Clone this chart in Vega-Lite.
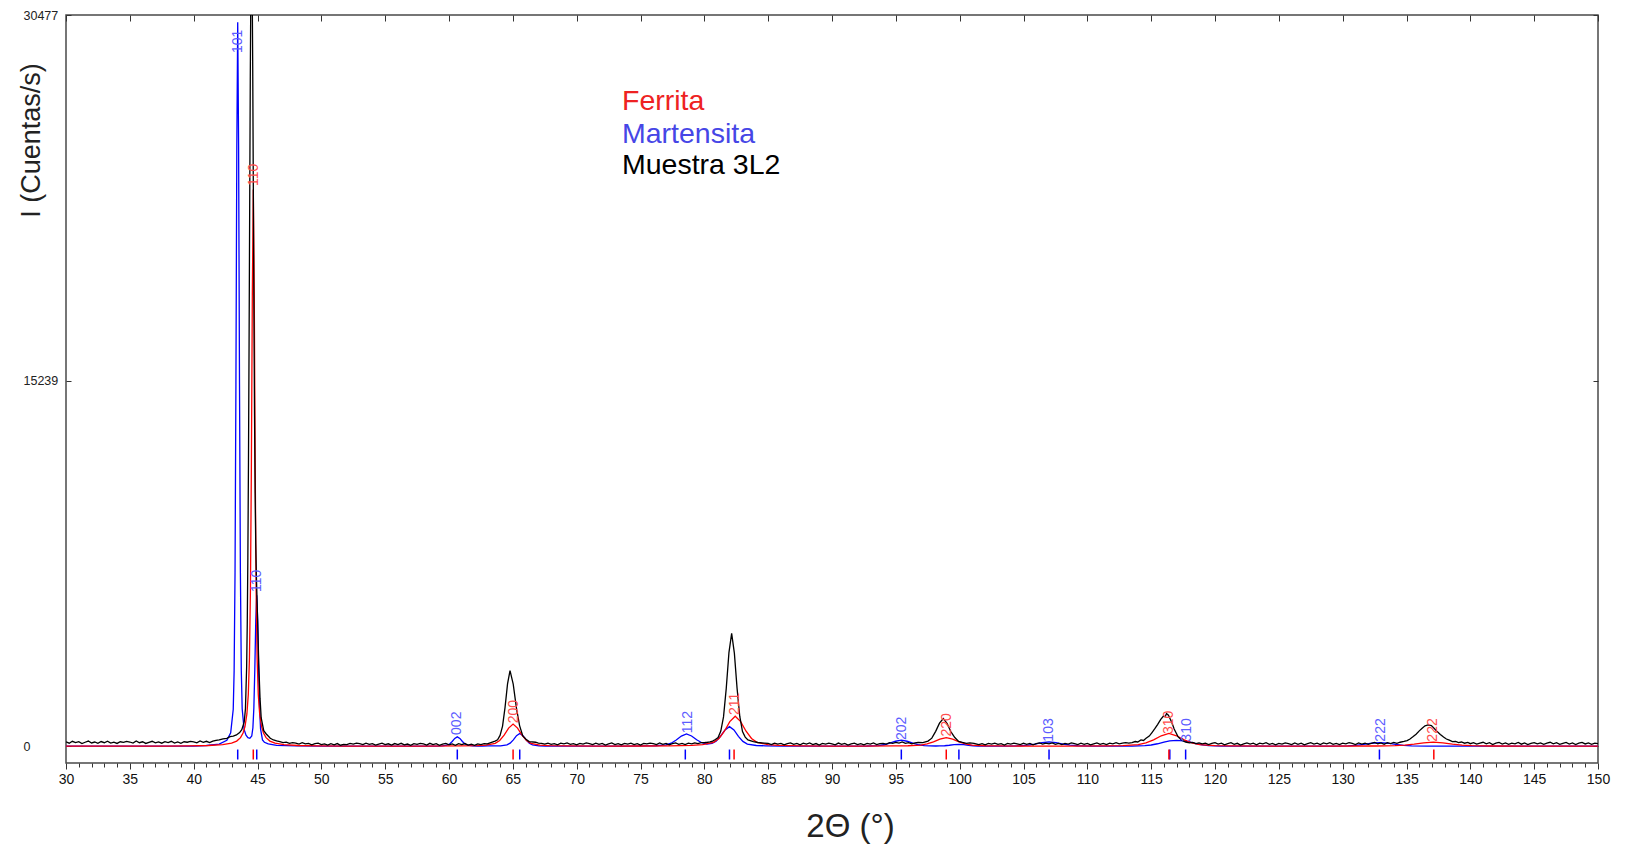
{
"$schema":"https://vega.github.io/schema/vega-lite/v6.json",
"width":1532,"height":748,
"autosize":{"type":"none"},
"padding":{"left":66,"top":15,"right":27,"bottom":88},
"background":"white",
"config":{"view":{"stroke":"#4a4a4a","strokeWidth":1.5},"font":"Liberation Sans"},
"resolve":{"axis":{"x":"independent","y":"independent"},"scale":{"color":"independent"}},
"datasets":{
"mar":[{"x":30,"y":0},{"x":40,"y":0},{"x":41,"y":30},{"x":42,"y":88},{"x":42.6,"y":246},{"x":42.9,"y":562},{"x":43.1,"y":1538},{"x":43.17,"y":3150},{"x":43.24,"y":7220},{"x":43.31,"y":15090},{"x":43.38,"y":25010},{"x":43.45,"y":30170},{"x":43.52,"y":25010},{"x":43.59,"y":15095},{"x":43.66,"y":7226},{"x":43.73,"y":3164},{"x":43.8,"y":1558},{"x":43.95,"y":703},{"x":44.1,"y":459},{"x":44.25,"y":353},{"x":44.4,"y":327},{"x":44.55,"y":424},{"x":44.64,"y":769},{"x":44.715,"y":1597},{"x":44.79,"y":3208},{"x":44.865,"y":5240},{"x":44.94,"y":6295},{"x":45.015,"y":5230},{"x":45.09,"y":3185},{"x":45.165,"y":1562},{"x":45.24,"y":720},{"x":45.39,"y":260},{"x":45.54,"y":166},{"x":45.84,"y":96},{"x":46.5,"y":36},{"x":48,"y":15},{"x":50,"y":6},{"x":52,"y":0},{"x":57,"y":0},{"x":58.25,"y":3},{"x":59.05,"y":7},{"x":59.45,"y":12},{"x":59.85,"y":41},{"x":60.05,"y":93},{"x":60.25,"y":195},{"x":60.45,"y":323},{"x":60.65,"y":390},{"x":60.85,"y":323},{"x":61.05,"y":195},{"x":61.25,"y":93},{"x":61.45,"y":41},{"x":61.85,"y":12},{"x":62.25,"y":8},{"x":62.6,"y":8},{"x":63.05,"y":10},{"x":63.54,"y":11},{"x":64.04,"y":17},{"x":64.54,"y":55},{"x":64.79,"y":127},{"x":65.04,"y":265},{"x":65.29,"y":439},{"x":65.54,"y":530},{"x":65.79,"y":439},{"x":66.04,"y":265},{"x":66.29,"y":127},{"x":66.54,"y":55},{"x":67.04,"y":17},{"x":67.54,"y":9},{"x":68.54,"y":4},{"x":70,"y":0},{"x":74,"y":0},{"x":75.4,"y":12},{"x":76.2,"y":20},{"x":77,"y":57},{"x":77.4,"y":126},{"x":77.8,"y":257},{"x":78.2,"y":423},{"x":78.6,"y":509},{"x":79,"y":426},{"x":79.4,"y":267},{"x":79.8,"y":144},{"x":80.2,"y":92},{"x":80.6,"y":114},{"x":80.92,"y":209},{"x":81.27,"y":416},{"x":81.62,"y":678},{"x":81.97,"y":815},{"x":82.32,"y":676},{"x":82.67,"y":411},{"x":83.02,"y":199},{"x":83.37,"y":90},{"x":84.07,"y":30},{"x":84.77,"y":17},{"x":86.17,"y":6},{"x":88,"y":0},{"x":90,"y":0},{"x":91.83,"y":4},{"x":92.73,"y":8},{"x":93.63,"y":26},{"x":94.08,"y":60},{"x":94.53,"y":125},{"x":94.98,"y":207},{"x":95.43,"y":250},{"x":95.88,"y":207},{"x":96.33,"y":125},{"x":96.78,"y":60},{"x":97.23,"y":26},{"x":98.13,"y":8},{"x":98.44,"y":12},{"x":98.82,"y":19},{"x":99.19,"y":40},{"x":99.565,"y":66},{"x":99.94,"y":80},{"x":100.315,"y":66},{"x":100.69,"y":40},{"x":101.065,"y":19},{"x":101.44,"y":8},{"x":102.2,"y":2},{"x":103.7,"y":6},{"x":104.8,"y":19},{"x":105.35,"y":43},{"x":105.9,"y":90},{"x":106.45,"y":149},{"x":107,"y":180},{"x":107.55,"y":149},{"x":108.1,"y":90},{"x":108.65,"y":43},{"x":109.2,"y":19},{"x":110.3,"y":6},{"x":111.5,"y":0},{"x":112.5,"y":3},{"x":113.5,"y":7},{"x":114.5,"y":23},{"x":115,"y":50},{"x":115.5,"y":102},{"x":116,"y":172},{"x":116.45,"y":223},{"x":117,"y":241},{"x":117.5,"y":226},{"x":118,"y":180},{"x":118.5,"y":112},{"x":119,"y":58},{"x":119.5,"y":25},{"x":120.5,"y":7},{"x":122,"y":0},{"x":128,"y":0},{"x":129.15,"y":5},{"x":130.4,"y":16},{"x":131.025,"y":36},{"x":131.65,"y":75},{"x":132.275,"y":124},{"x":132.9,"y":150},{"x":133.525,"y":124},{"x":134.15,"y":75},{"x":134.775,"y":36},{"x":135.4,"y":16},{"x":136.65,"y":5},{"x":138,"y":0},{"x":150,"y":0}],
"fer":[{"x":30,"y":0},{"x":38,"y":5},{"x":39.67,"y":15},{"x":41.17,"y":30},{"x":42.27,"y":63},{"x":42.97,"y":125},{"x":43.37,"y":214},{"x":43.67,"y":357},{"x":43.87,"y":552},{"x":44.02,"y":812},{"x":44.17,"y":1345},{"x":44.28,"y":2160},{"x":44.37,"y":3690},{"x":44.445,"y":6450},{"x":44.52,"y":11600},{"x":44.595,"y":18840},{"x":44.67,"y":23200},{"x":44.745,"y":18840},{"x":44.82,"y":11600},{"x":44.895,"y":6450},{"x":44.97,"y":3690},{"x":45.06,"y":2160},{"x":45.17,"y":1345},{"x":45.32,"y":812},{"x":45.47,"y":552},{"x":45.67,"y":357},{"x":45.97,"y":214},{"x":46.37,"y":125},{"x":47.07,"y":63},{"x":48.17,"y":30},{"x":49.67,"y":15},{"x":52,"y":6},{"x":55,"y":2},{"x":58,"y":4},{"x":60.82,"y":12},{"x":62.22,"y":27},{"x":62.92,"y":47},{"x":63.62,"y":121},{"x":63.97,"y":238},{"x":64.32,"y":460},{"x":64.67,"y":754},{"x":65.02,"y":920},{"x":65.37,"y":754},{"x":65.72,"y":460},{"x":66.07,"y":238},{"x":66.42,"y":121},{"x":67.12,"y":47},{"x":67.82,"y":27},{"x":69.22,"y":12},{"x":72,"y":4},{"x":75,"y":8},{"x":77.32,"y":17},{"x":79.02,"y":36},{"x":79.87,"y":64},{"x":80.72,"y":164},{"x":81.145,"y":324},{"x":81.57,"y":625},{"x":81.995,"y":1025},{"x":82.42,"y":1250},{"x":82.845,"y":1025},{"x":83.27,"y":625},{"x":83.695,"y":324},{"x":84.12,"y":164},{"x":84.97,"y":64},{"x":85.82,"y":36},{"x":87.52,"y":17},{"x":90,"y":6},{"x":92,"y":5},{"x":94.95,"y":10},{"x":95.95,"y":18},{"x":96.95,"y":47},{"x":97.45,"y":93},{"x":97.95,"y":180},{"x":98.45,"y":295},{"x":98.95,"y":360},{"x":99.45,"y":295},{"x":99.95,"y":180},{"x":100.45,"y":93},{"x":100.95,"y":47},{"x":101.95,"y":18},{"x":102.95,"y":10},{"x":106,"y":5},{"x":108,"y":4},{"x":111.59,"y":15},{"x":112.79,"y":27},{"x":113.99,"y":69},{"x":114.59,"y":137},{"x":115.19,"y":265},{"x":115.79,"y":435},{"x":116.39,"y":530},{"x":116.99,"y":435},{"x":117.59,"y":265},{"x":118.19,"y":137},{"x":118.79,"y":69},{"x":119.99,"y":27},{"x":121.19,"y":15},{"x":125,"y":5},{"x":128,"y":3},{"x":132.6,"y":9},{"x":134.1,"y":22},{"x":134.85,"y":44},{"x":135.6,"y":85},{"x":136.35,"y":139},{"x":137.1,"y":170},{"x":137.85,"y":139},{"x":138.6,"y":85},{"x":139.35,"y":44},{"x":140.1,"y":22},{"x":141.6,"y":9},{"x":145,"y":3},{"x":150,"y":2}],
"obs":[{"x":30,"y":180},{"x":30.25,"y":125},{"x":30.5,"y":205},{"x":30.75,"y":150},{"x":31,"y":190},{"x":31.25,"y":110},{"x":31.5,"y":165},{"x":31.75,"y":215},{"x":32,"y":135},{"x":32.25,"y":175},{"x":32.5,"y":120},{"x":32.75,"y":195},{"x":33,"y":145},{"x":33.25,"y":210},{"x":33.5,"y":130},{"x":33.75,"y":170},{"x":34,"y":115},{"x":34.25,"y":185},{"x":34.5,"y":160},{"x":34.75,"y":200},{"x":35,"y":175},{"x":35.25,"y":130},{"x":35.5,"y":215},{"x":35.75,"y":145},{"x":36,"y":185},{"x":36.25,"y":115},{"x":36.5,"y":160},{"x":36.75,"y":205},{"x":37,"y":140},{"x":37.25,"y":180},{"x":37.5,"y":125},{"x":37.75,"y":190},{"x":38,"y":150},{"x":38.25,"y":205},{"x":38.5,"y":130},{"x":38.75,"y":175},{"x":39,"y":120},{"x":39.25,"y":185},{"x":39.5,"y":165},{"x":39.75,"y":200},{"x":40,"y":185},{"x":40.25,"y":140},{"x":40.5,"y":220},{"x":40.75,"y":160},{"x":41,"y":205},{"x":41.25,"y":150},{"x":41.5,"y":210},{"x":41.75,"y":240},{"x":42,"y":260},{"x":42.3,"y":305},{"x":42.6,"y":330},{"x":42.85,"y":400},{"x":43.1,"y":420},{"x":43.35,"y":470},{"x":43.6,"y":565},{"x":43.77,"y":690},{"x":43.96,"y":1015},{"x":44.055,"y":1555},{"x":44.15,"y":3315},{"x":44.1975,"y":5085},{"x":44.245,"y":7880},{"x":44.2925,"y":11810},{"x":44.34,"y":16800},{"x":44.3875,"y":22400},{"x":44.435,"y":27900},{"x":44.4825,"y":31900},{"x":44.53,"y":33400},{"x":44.5775,"y":32190},{"x":44.625,"y":28350},{"x":44.6725,"y":23320},{"x":44.72,"y":18200},{"x":44.7675,"y":13770},{"x":44.815,"y":10555},{"x":44.8625,"y":8425},{"x":44.91,"y":7145},{"x":45.005,"y":5315},{"x":45.1,"y":3413},{"x":45.2,"y":1982},{"x":45.29,"y":1178},{"x":45.49,"y":650},{"x":45.67,"y":520},{"x":46,"y":330},{"x":46.25,"y":260},{"x":46.5,"y":220},{"x":46.75,"y":190},{"x":47,"y":150},{"x":47.25,"y":170},{"x":47.5,"y":120},{"x":47.75,"y":145},{"x":48,"y":130},{"x":48.25,"y":85},{"x":48.5,"y":145},{"x":48.75,"y":95},{"x":49,"y":120},{"x":49.25,"y":60},{"x":49.5,"y":105},{"x":49.75,"y":130},{"x":50,"y":70},{"x":50.25,"y":95},{"x":50.5,"y":45},{"x":50.75,"y":105},{"x":51,"y":60},{"x":51.25,"y":110},{"x":51.5,"y":40},{"x":51.75,"y":75},{"x":52,"y":65},{"x":52.25,"y":120},{"x":52.5,"y":90},{"x":52.75,"y":125},{"x":53,"y":105},{"x":53.25,"y":65},{"x":53.5,"y":130},{"x":53.75,"y":80},{"x":54,"y":110},{"x":54.25,"y":50},{"x":54.5,"y":90},{"x":54.75,"y":130},{"x":55,"y":65},{"x":55.25,"y":100},{"x":55.5,"y":45},{"x":55.75,"y":110},{"x":56,"y":70},{"x":56.25,"y":120},{"x":56.5,"y":55},{"x":56.75,"y":90},{"x":57,"y":40},{"x":57.25,"y":105},{"x":57.5,"y":80},{"x":57.75,"y":120},{"x":58,"y":95},{"x":58.25,"y":50},{"x":58.5,"y":120},{"x":58.75,"y":65},{"x":59,"y":105},{"x":59.25,"y":35},{"x":59.5,"y":85},{"x":59.75,"y":120},{"x":60,"y":55},{"x":60.25,"y":95},{"x":60.5,"y":40},{"x":60.75,"y":105},{"x":61,"y":65},{"x":61.25,"y":110},{"x":61.5,"y":45},{"x":61.75,"y":85},{"x":62,"y":40},{"x":62.25,"y":95},{"x":62.5,"y":70},{"x":62.75,"y":110},{"x":63,"y":95},{"x":63.22,"y":140},{"x":63.61,"y":215},{"x":63.805,"y":265},{"x":64,"y":450},{"x":64.195,"y":840},{"x":64.39,"y":1620},{"x":64.585,"y":2600},{"x":64.78,"y":3150},{"x":65.03,"y":2590},{"x":65.28,"y":1600},{"x":65.53,"y":860},{"x":65.78,"y":430},{"x":66.03,"y":290},{"x":66.28,"y":195},{"x":66.78,"y":165},{"x":67,"y":130},{"x":67.25,"y":120},{"x":67.5,"y":85},{"x":67.75,"y":130},{"x":68,"y":75},{"x":68.25,"y":110},{"x":68.5,"y":60},{"x":68.75,"y":125},{"x":69,"y":95},{"x":69.25,"y":135},{"x":69.5,"y":80},{"x":69.75,"y":110},{"x":70,"y":55},{"x":70.25,"y":120},{"x":70.5,"y":90},{"x":70.75,"y":135},{"x":71,"y":110},{"x":71.25,"y":70},{"x":71.5,"y":130},{"x":71.75,"y":80},{"x":72,"y":120},{"x":72.25,"y":50},{"x":72.5,"y":100},{"x":72.75,"y":135},{"x":73,"y":70},{"x":73.25,"y":110},{"x":73.5,"y":55},{"x":73.75,"y":120},{"x":74,"y":85},{"x":74.25,"y":130},{"x":74.5,"y":65},{"x":74.75,"y":105},{"x":75,"y":50},{"x":75.25,"y":115},{"x":75.5,"y":95},{"x":75.75,"y":130},{"x":76,"y":110},{"x":76.25,"y":65},{"x":76.5,"y":135},{"x":76.75,"y":80},{"x":77,"y":120},{"x":77.25,"y":55},{"x":77.5,"y":105},{"x":77.75,"y":140},{"x":78,"y":80},{"x":78.25,"y":115},{"x":78.5,"y":65},{"x":78.75,"y":125},{"x":79,"y":95},{"x":79.25,"y":140},{"x":79.5,"y":110},{"x":79.75,"y":150},{"x":80,"y":150},{"x":80.25,"y":165},{"x":80.44,"y":180},{"x":80.65,"y":215},{"x":80.865,"y":280},{"x":81.0775,"y":360},{"x":81.29,"y":630},{"x":81.5025,"y":1220},{"x":81.715,"y":2400},{"x":81.9275,"y":3900},{"x":82.14,"y":4700},{"x":82.3525,"y":3880},{"x":82.565,"y":2410},{"x":82.7775,"y":1240},{"x":82.99,"y":610},{"x":83.2025,"y":380},{"x":83.415,"y":260},{"x":83.84,"y":195},{"x":84.2,"y":155},{"x":84.69,"y":130},{"x":85,"y":115},{"x":85.25,"y":70},{"x":85.5,"y":130},{"x":85.75,"y":90},{"x":86,"y":120},{"x":86.25,"y":55},{"x":86.5,"y":105},{"x":86.75,"y":140},{"x":87,"y":75},{"x":87.25,"y":115},{"x":87.5,"y":60},{"x":87.75,"y":125},{"x":88,"y":90},{"x":88.25,"y":135},{"x":88.5,"y":70},{"x":88.75,"y":110},{"x":89,"y":50},{"x":89.25,"y":115},{"x":89.5,"y":85},{"x":89.75,"y":125},{"x":90,"y":100},{"x":90.25,"y":60},{"x":90.5,"y":130},{"x":90.75,"y":75},{"x":91,"y":115},{"x":91.25,"y":45},{"x":91.5,"y":95},{"x":91.75,"y":130},{"x":92,"y":70},{"x":92.25,"y":110},{"x":92.5,"y":55},{"x":92.75,"y":120},{"x":93,"y":85},{"x":93.25,"y":135},{"x":93.5,"y":70},{"x":93.75,"y":105},{"x":94,"y":120},{"x":94.25,"y":90},{"x":94.5,"y":150},{"x":94.75,"y":115},{"x":95,"y":160},{"x":95.25,"y":130},{"x":95.5,"y":175},{"x":95.75,"y":120},{"x":96,"y":150},{"x":96.25,"y":100},{"x":96.5,"y":135},{"x":96.75,"y":155},{"x":97.12,"y":150},{"x":97.52,"y":215},{"x":97.82,"y":335},{"x":98.12,"y":620},{"x":98.42,"y":960},{"x":98.72,"y":1150},{"x":99.02,"y":945},{"x":99.32,"y":600},{"x":99.62,"y":360},{"x":99.92,"y":200},{"x":100.22,"y":155},{"x":100.52,"y":115},{"x":100.8,"y":140},{"x":101.12,"y":120},{"x":101.5,"y":70},{"x":101.75,"y":110},{"x":102,"y":60},{"x":102.25,"y":120},{"x":102.5,"y":90},{"x":102.75,"y":130},{"x":103,"y":75},{"x":103.25,"y":105},{"x":103.5,"y":50},{"x":103.75,"y":115},{"x":104,"y":85},{"x":104.25,"y":125},{"x":104.5,"y":100},{"x":104.75,"y":65},{"x":105,"y":125},{"x":105.25,"y":80},{"x":105.5,"y":115},{"x":105.75,"y":55},{"x":106,"y":105},{"x":106.25,"y":135},{"x":106.5,"y":90},{"x":106.75,"y":130},{"x":107,"y":95},{"x":107.25,"y":140},{"x":107.5,"y":80},{"x":107.75,"y":115},{"x":108,"y":65},{"x":108.25,"y":120},{"x":108.5,"y":90},{"x":108.75,"y":135},{"x":109,"y":110},{"x":109.25,"y":70},{"x":109.5,"y":125},{"x":109.75,"y":80},{"x":110,"y":120},{"x":110.25,"y":55},{"x":110.5,"y":100},{"x":110.75,"y":140},{"x":111,"y":80},{"x":111.25,"y":115},{"x":111.5,"y":70},{"x":111.75,"y":130},{"x":112,"y":100},{"x":112.25,"y":150},{"x":112.5,"y":95},{"x":112.75,"y":125},{"x":113,"y":150},{"x":113.25,"y":125},{"x":113.5,"y":150},{"x":113.75,"y":195},{"x":113.95,"y":175},{"x":114.2,"y":260},{"x":114.4,"y":240},{"x":114.6,"y":330},{"x":114.85,"y":420},{"x":115.05,"y":560},{"x":115.3,"y":740},{"x":115.5,"y":900},{"x":115.75,"y":1120},{"x":115.95,"y":1250},{"x":116.1,"y":1230},{"x":116.2,"y":1360},{"x":116.35,"y":1290},{"x":116.5,"y":1120},{"x":116.65,"y":950},{"x":116.8,"y":720},{"x":116.95,"y":560},{"x":117.1,"y":400},{"x":117.25,"y":320},{"x":117.4,"y":250},{"x":117.7,"y":175},{"x":118,"y":140},{"x":118.25,"y":160},{"x":118.5,"y":110},{"x":118.75,"y":140},{"x":119,"y":95},{"x":119.25,"y":130},{"x":119.5,"y":70},{"x":119.75,"y":115},{"x":120,"y":150},{"x":120.25,"y":85},{"x":120.5,"y":125},{"x":120.75,"y":60},{"x":121,"y":110},{"x":121.25,"y":145},{"x":121.5,"y":75},{"x":121.75,"y":120},{"x":122,"y":50},{"x":122.25,"y":100},{"x":122.5,"y":140},{"x":122.75,"y":85},{"x":123,"y":125},{"x":123.25,"y":60},{"x":123.5,"y":130},{"x":123.75,"y":95},{"x":124,"y":145},{"x":124.25,"y":75},{"x":124.5,"y":115},{"x":124.75,"y":55},{"x":125,"y":120},{"x":125.25,"y":90},{"x":125.5,"y":140},{"x":125.75,"y":110},{"x":126,"y":65},{"x":126.25,"y":135},{"x":126.5,"y":80},{"x":126.75,"y":125},{"x":127,"y":60},{"x":127.25,"y":105},{"x":127.5,"y":150},{"x":127.75,"y":90},{"x":128,"y":130},{"x":128.25,"y":70},{"x":128.5,"y":135},{"x":128.75,"y":100},{"x":129,"y":150},{"x":129.25,"y":80},{"x":129.5,"y":120},{"x":129.75,"y":65},{"x":130,"y":125},{"x":130.25,"y":100},{"x":130.5,"y":145},{"x":130.75,"y":115},{"x":131,"y":70},{"x":131.25,"y":140},{"x":131.5,"y":90},{"x":131.75,"y":130},{"x":132,"y":75},{"x":132.25,"y":115},{"x":132.5,"y":155},{"x":132.75,"y":100},{"x":133,"y":140},{"x":133.25,"y":80},{"x":133.5,"y":145},{"x":133.75,"y":110},{"x":134,"y":155},{"x":134.25,"y":120},{"x":134.5,"y":165},{"x":134.8,"y":200},{"x":135.05,"y":235},{"x":135.275,"y":300},{"x":135.5,"y":390},{"x":135.75,"y":500},{"x":136,"y":640},{"x":136.225,"y":750},{"x":136.45,"y":850},{"x":136.7,"y":890},{"x":136.95,"y":860},{"x":137.175,"y":740},{"x":137.4,"y":610},{"x":137.65,"y":490},{"x":137.9,"y":380},{"x":138.125,"y":300},{"x":138.35,"y":250},{"x":138.6,"y":195},{"x":138.85,"y":200},{"x":139.075,"y":150},{"x":139.3,"y":175},{"x":139.55,"y":125},{"x":139.8,"y":160},{"x":140,"y":105},{"x":140.25,"y":150},{"x":140.5,"y":85},{"x":140.75,"y":130},{"x":141,"y":165},{"x":141.25,"y":100},{"x":141.5,"y":145},{"x":141.75,"y":70},{"x":142,"y":125},{"x":142.25,"y":155},{"x":142.5,"y":90},{"x":142.75,"y":140},{"x":143,"y":75},{"x":143.25,"y":130},{"x":143.5,"y":100},{"x":143.75,"y":160},{"x":144,"y":85},{"x":144.25,"y":135},{"x":144.5,"y":65},{"x":144.75,"y":120},{"x":145,"y":150},{"x":145.25,"y":95},{"x":145.5,"y":140},{"x":145.75,"y":80},{"x":146,"y":130},{"x":146.25,"y":165},{"x":146.5,"y":100},{"x":146.75,"y":145},{"x":147,"y":75},{"x":147.25,"y":120},{"x":147.5,"y":155},{"x":147.75,"y":90},{"x":148,"y":135},{"x":148.25,"y":70},{"x":148.5,"y":125},{"x":148.75,"y":160},{"x":149,"y":95},{"x":149.25,"y":140},{"x":149.5,"y":80},{"x":149.75,"y":125},{"x":150,"y":105}],
"sticks":[{"phase":"Martensita","x":43.45},{"phase":"Ferrita","x":44.67},{"phase":"Martensita","x":44.94},{"phase":"Martensita","x":60.65},{"phase":"Ferrita","x":65.02},{"phase":"Martensita","x":65.54},{"phase":"Martensita","x":78.51},{"phase":"Martensita","x":81.97},{"phase":"Ferrita","x":82.33},{"phase":"Martensita","x":95.43},{"phase":"Ferrita","x":98.95},{"phase":"Martensita","x":99.94},{"phase":"Martensita","x":107.0},{"phase":"Martensita","x":116.46},{"phase":"Ferrita","x":116.39},{"phase":"Martensita","x":117.7},{"phase":"Martensita","x":132.88},{"phase":"Ferrita","x":137.14}],
"hkl":[{"phase":"Martensita","x":43.45,"y":28890,"hkl":"101"},{"phase":"Ferrita","x":44.7,"y":23350,"hkl":"110"},{"phase":"Martensita","x":44.98,"y":6430,"hkl":"110"},{"phase":"Martensita","x":60.6,"y":470,"hkl":"002"},{"phase":"Ferrita","x":65.09,"y":955,"hkl":"200"},{"phase":"Martensita","x":78.74,"y":540,"hkl":"112"},{"phase":"Ferrita","x":82.4,"y":1300,"hkl":"211"},{"phase":"Martensita","x":95.45,"y":260,"hkl":"202"},{"phase":"Ferrita","x":98.98,"y":400,"hkl":"220"},{"phase":"Martensita","x":107.02,"y":190,"hkl":"103"},{"phase":"Ferrita","x":116.42,"y":510,"hkl":"310"},{"phase":"Martensita","x":117.78,"y":190,"hkl":"310"},{"phase":"Martensita","x":132.97,"y":190,"hkl":"222"},{"phase":"Ferrita","x":137.1,"y":190,"hkl":"222"}],
"legend":[{"t":"Ferrita","x":73.55,"y":26520},{"t":"Martensita","x":73.55,"y":25150},{"t":"Muestra 3L2","x":73.55,"y":23830}]
},
"layer":[
{"mark":{"type":"rule","color":"#a8a8a8","strokeWidth":1},
 "encoding":{"y":{"datum":-25,"type":"quantitative","scale":{"domain":[-700,30477],"nice":false,"zero":false},"axis":null}}},
{"data":{"name":"sticks"},"mark":{"type":"rule","strokeWidth":1.5},
 "encoding":{"x":{"field":"x","type":"quantitative","scale":{"domain":[30,150],"nice":false,"zero":false},"axis":null},
  "y":{"datum":-138,"type":"quantitative","axis":null},"y2":{"datum":-554},
  "color":{"field":"phase","type":"nominal","scale":{"domain":["Ferrita","Martensita"],"range":["#ff0000","#0000ff"]},"legend":null}}},
{"data":{"name":"mar"},"mark":{"type":"line","color":"#0000ff","strokeWidth":1.3},
 "encoding":{"x":{"field":"x","type":"quantitative","axis":{"orient":"bottom","values":[30,35,40,45,50,55,60,65,70,75,80,85,90,95,100,105,110,115,120,125,130,135,140,145,150],"format":"d","tickSize":6,"tickColor":"#333","tickWidth":1,"domain":false,"grid":false,"labelFontSize":14,"labelColor":"#111","labelPadding":3,"labelFlush":false,"labelOverlap":false,"labelBound":false,"title":"2Θ (°)","titleFontSize":33,"titleFontWeight":"normal","titleColor":"#222","titleX":784,"titleY":63,"titleAlign":"center","titleBaseline":"middle","titleAngle":0}},
  "y":{"field":"y","type":"quantitative","axis":{"orient":"left","values":[0,15239,30477],"format":"d","tickSize":-5,"tickColor":"#333","domain":false,"grid":false,"labelAlign":"left","labelBaseline":"middle","labelPadding":48,"labelFontSize":12.5,"labelColor":"#222","labelFlush":false,"labelOverlap":false,"labelBound":false,"title":"I (Cuentas/s)","titleFontSize":27,"titleFontWeight":"normal","titleColor":"#222","titleX":-35,"titleY":125,"titleAngle":270,"titleAlign":"center","titleBaseline":"middle"}}}},
{"data":{"name":"fer"},"mark":{"type":"line","color":"#ff0000","strokeWidth":1.3},
 "encoding":{"x":{"field":"x","type":"quantitative","axis":{"orient":"top","values":[30,35,40,45,50,55,60,65,70,75,80,85,90,95,100,105,110,115,120,125,130,135,140,145,150],"tickSize":-6,"tickColor":"#333","labels":false,"domain":false,"grid":false,"title":null}},
  "y":{"field":"y","type":"quantitative","axis":{"orient":"right","values":[0,15239,30477],"tickSize":-5,"tickColor":"#333","labels":false,"domain":false,"grid":false,"title":null}}}},
{"data":{"name":"obs"},"mark":{"type":"line","color":"#000000","strokeWidth":1.3,"clip":true},
 "encoding":{"x":{"field":"x","type":"quantitative","axis":{"orient":"bottom","values":[31,32,33,34,36,37,38,39,41,42,43,44,46,47,48,49,51,52,53,54,56,57,58,59,61,62,63,64,66,67,68,69,71,72,73,74,76,77,78,79,81,82,83,84,86,87,88,89,91,92,93,94,96,97,98,99,101,102,103,104,106,107,108,109,111,112,113,114,116,117,118,119,121,122,123,124,126,127,128,129,131,132,133,134,136,137,138,139,141,142,143,144,146,147,148,149],"tickSize":4,"tickColor":"#333","labels":false,"domain":false,"grid":false,"title":null}},
  "y":{"field":"y","type":"quantitative","axis":null}}},
{"data":{"name":"hkl"},"mark":{"type":"text","angle":270,"align":"left","baseline":"middle","fontSize":14,"font":"Liberation Sans"},
 "encoding":{"x":{"field":"x","type":"quantitative","axis":null},"y":{"field":"y","type":"quantitative","axis":null},"text":{"field":"hkl"},
  "color":{"field":"phase","type":"nominal","scale":{"domain":["Ferrita","Martensita"],"range":["#ff4d4d","#5c5cff"]},"legend":null}}},
{"data":{"name":"legend"},"mark":{"type":"text","align":"left","baseline":"alphabetic","fontSize":28.5,"font":"Liberation Sans"},
 "encoding":{"x":{"field":"x","type":"quantitative","axis":null},"y":{"field":"y","type":"quantitative","axis":null},"text":{"field":"t"},
  "color":{"field":"t","type":"nominal","scale":{"domain":["Ferrita","Martensita","Muestra 3L2"],"range":["#ee2222","#4646e6","#000000"]},"legend":null}}}
]
}
